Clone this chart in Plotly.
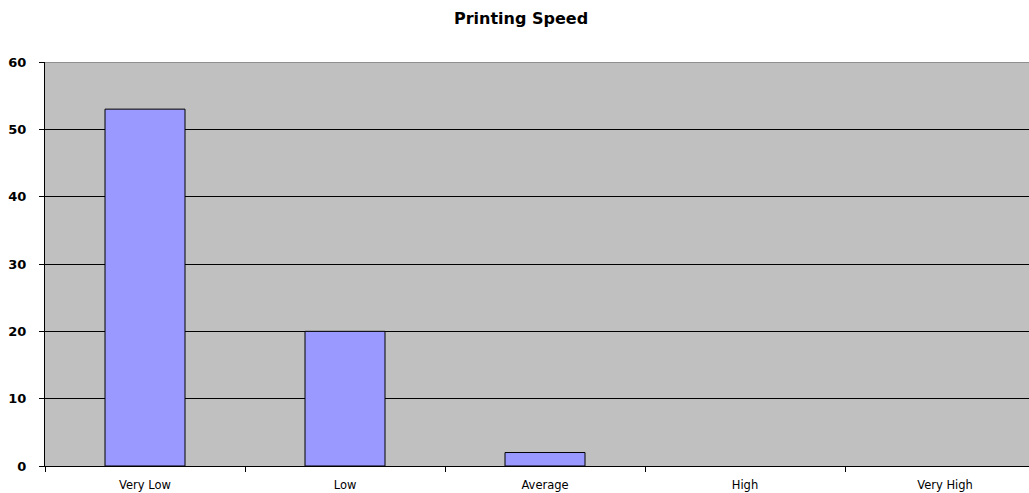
import plotly.graph_objects as go

categories = ["Very Low", "Low", "Average", "High", "Very High"]
counts = [53, 20, 2, 0, 0]
y_ticks = [0, 10, 20, 30, 40, 50, 60]

# empty categories get no outline, so nothing is drawn for them
outline_widths = [1 if c > 0 else 0 for c in counts]

fig = go.Figure()
fig.add_trace(go.Bar(
    x=categories,
    y=counts,
    width=0.4,
    marker=dict(color="#9999FF", line=dict(color="#000000", width=outline_widths)),
))

# grey frame line along the top of the plot area
fig.add_shape(type="line", xref="paper", yref="y", x0=0, x1=1, y0=60, y1=60,
              line=dict(color="#808080", width=1.5))

fig.update_layout(
    width=1029, height=493,
    margin=dict(l=45, r=0, t=62, b=27),
    paper_bgcolor="white",
    plot_bgcolor="#C0C0C0",
    showlegend=False,
    bargap=0.6,
    title=dict(text="<b>Printing Speed</b>", x=521 / 1029, xanchor="center",
               y=1 - 18 / 493, yanchor="middle",
               font=dict(family="DejaVu Sans", size=16, color="black")),
    xaxis=dict(
        range=[-0.5, 4.42],
        tickson="boundaries",
        ticks="outside", ticklen=5, tickcolor="black",
        showline=True, linecolor="black", linewidth=1,
        showgrid=False,
        ticklabelstandoff=8,
        tickfont=dict(family="DejaVu Sans", size=11.5, color="black"),
    ),
    yaxis=dict(
        range=[0, 60],
        tickvals=y_ticks,
        ticks="outside", ticklen=5, tickcolor="black",
        showline=True, linecolor="black", linewidth=1,
        showgrid=True, gridcolor="black", gridwidth=1,
        zeroline=False,
        ticklabelstandoff=10,
        tickfont=dict(family="DejaVu Sans", size=13, color="black",
                      weight="bold"),
    ),
)

fig.write_html("out.html")
